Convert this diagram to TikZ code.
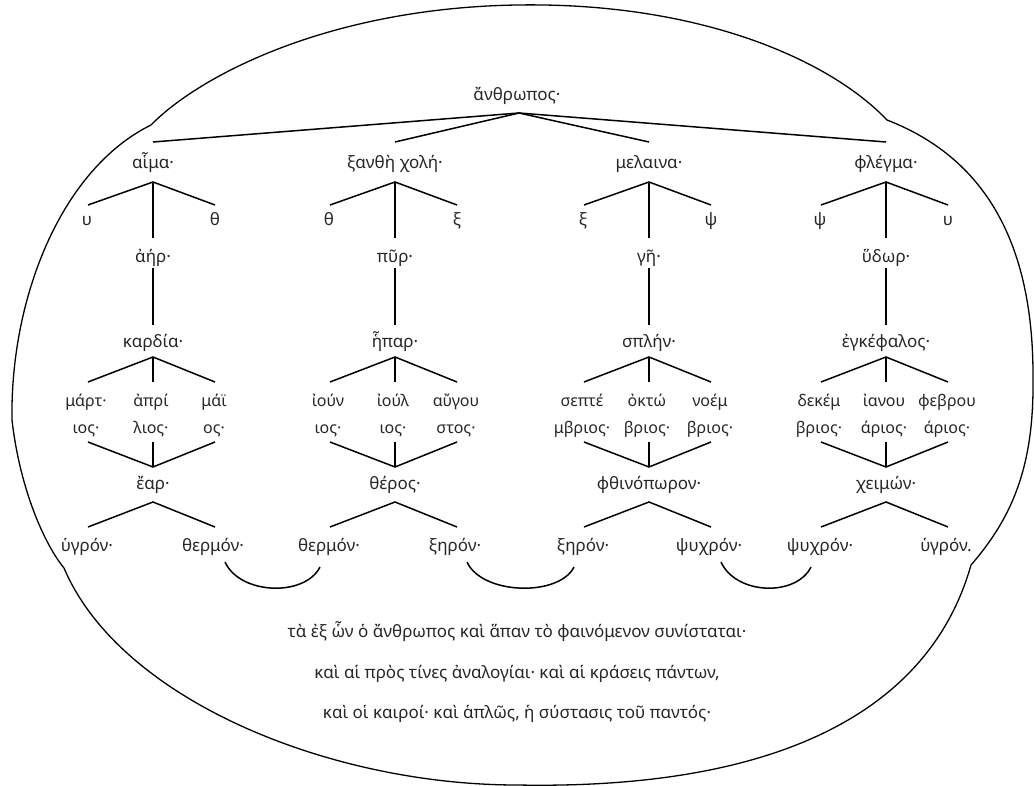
\documentclass[tikz,border=0pt]{standalone}
\usepackage{fontspec}
\setmainfont{Noto Sans}
\usetikzlibrary{calc}
\tikzset{
  lbl/.style={font=\fontsize{17}{20}\selectfont, inner sep=0pt, anchor=base, text=black!85},
  mon/.style={lbl, align=center, font=\fontsize{16}{27}\selectfont},
  body/.style={lbl, font=\fontsize{17}{20}\selectfont},
  link/.style={line width=1.5pt, line join=miter},
  rim/.style={line width=1.3pt},
}
\newcommand\humcol[2]{%
  \begin{scope}[xshift=#1pt]
    \coordinate (#2t) at (0,142);
    \node[lbl] (#2top) at (0,169) {\cTop};
    \coordinate (#2f1) at (0,182);
    \coordinate (#2f1l) at (-65,205);
    \coordinate (#2f1r) at (62,205);
    \coordinate (#2f1d) at (0,238);
    \node[lbl] (#2l) at (-66,226) {\cLeft};
    \node[lbl] (#2r) at (62,226) {\cRight};
    \node[lbl] (#2el) at (0,263) {\cElem};
    \coordinate (#2v1) at (0,268);
    \coordinate (#2v2) at (0,325);
    \node[lbl] (#2org) at (0,348) {\cOrgan};
    \coordinate (#2f2) at (0,357);
    \coordinate (#2f2l) at (-65,382);
    \coordinate (#2f2m) at (0,382);
    \coordinate (#2f2r) at (62,382);
    \node[mon] (#2ma) at (-67,433) {\cMa};
    \node[mon] (#2mb) at (-2,433) {\cMb};
    \node[mon] (#2mc) at (61,433) {\cMc};
    \coordinate (#2g1) at (-65,442);
    \coordinate (#2g2) at (0,442);
    \coordinate (#2g3) at (62,442);
    \coordinate (#2g) at (0,467);
    \node[lbl] (#2sea) at (0,489) {\cSeason};
    \coordinate (#2f3) at (0,502);
    \coordinate (#2f3l) at (-65,527);
    \coordinate (#2f3r) at (62,527);
    \node[lbl] (#2qa) at (-66,551) {\cQa};
    \node[lbl] (#2qb) at (60,551) {\cQb};
    \coordinate (#2arcL) at (-75,567);
    \coordinate (#2arcR) at (72,562);
    \draw[link] (#2f1l) -- (#2f1) -- (#2f1r);
    \draw[link] (#2f1) -- (#2f1d);
    \draw[link] (#2v1) -- (#2v2);
    \draw[link] (#2f2l) -- (#2f2) -- (#2f2r);
    \draw[link] (#2f2) -- (#2f2m);
    \draw[link] (#2g1) -- (#2g) -- (#2g3);
    \draw[link] (#2g2) -- (#2g);
    \draw[link] (#2f3l) -- (#2f3) -- (#2f3r);
  \end{scope}}
\begin{document}
\begin{tikzpicture}[x=1pt,y=-1pt]
\useasboundingbox (0,0) rectangle (1034,786);
% outer boundary
\draw[rim] (151,125) .. controls (200,75) and (330,8) .. (517,5)
  .. controls (700,2) and (830,60) .. (887,120)
  .. controls (990,160) and (1034,250) .. (1033,380)
  .. controls (1034,470) and (1010,520) .. (971,565)
  .. controls (930,710) and (780,790) .. (517,785)
  .. controls (330,785) and (120,700) .. (64,568)
  .. controls (45,545) and (20,490) .. (12,420)
  .. controls (10,300) and (60,170) .. (151,125) -- cycle;
% columns
\def\cTop{αἷμα·}\def\cLeft{υ}\def\cRight{θ}\def\cElem{ἀήρ·}\def\cOrgan{καρδία·}
\def\cMa{μάρτ·\\ιος·}\def\cMb{ἀπρί\\λιος·}\def\cMc{μάϊ\\ος·}
\def\cSeason{ἔαρ·}\def\cQa{ὑγρόν·}\def\cQb{θερμόν·}
\humcol{153}{a}
\def\cTop{ξανθὴ χολή·}\def\cLeft{θ}\def\cRight{ξ}\def\cElem{πῦρ·}\def\cOrgan{ἧπαρ·}
\def\cMa{ἰούν\\ιος·}\def\cMb{ἰούλ\\ιος·}\def\cMc{αὔγου\\στος·}
\def\cSeason{θέρος·}\def\cQa{θερμόν·}\def\cQb{ξηρόν·}
\humcol{395}{b}
\def\cTop{μελαινα·}\def\cLeft{ξ}\def\cRight{ψ}\def\cElem{γῆ·}\def\cOrgan{σπλήν·}
\def\cMa{σεπτέ\\μβριος·}\def\cMb{ὀκτώ\\βριος·}\def\cMc{νοέμ\\βριος·}
\def\cSeason{φθινόπωρον·}\def\cQa{ξηρόν·}\def\cQb{ψυχρόν·}
\humcol{649}{c}
\def\cTop{φλέγμα·}\def\cLeft{ψ}\def\cRight{υ}\def\cElem{ὕδωρ·}\def\cOrgan{ἐγκέφαλος·}
\def\cMa{δεκέμ\\βριος·}\def\cMb{ἰανου\\άριος·}\def\cMc{φεβρου\\άριος·}
\def\cSeason{χειμών·}\def\cQa{ψυχρόν·}\def\cQb{ὑγρόν.}
\humcol{886}{d}
% root
\node[lbl] (man) at (517,101) {ἄνθρωπος·};
\coordinate (mf) at (519,113);
\draw[link] (at) -- (mf) -- (dt);
\draw[link] (bt) -- (mf) -- (ct);
% arcs joining shared qualities
\draw[link] (aarcR) .. controls ($(aarcR)+(15,33)$) and ($(barcL)+(-15,30)$) .. (barcL);
\draw[link] (barcR) .. controls ($(barcR)+(15,33)$) and ($(carcL)+(-15,30)$) .. (carcL);
\draw[link] (carcR) .. controls ($(carcR)+(15,33)$) and ($(darcL)+(-15,30)$) .. (darcL);
% closing text
\node[body] (t1) at (517,637) {τὰ ἐξ ὧν ὁ ἄνθρωπος καὶ ἅπαν τὸ φαινόμενον συνίσταται·};
\node[body] (t2) at (517,678) {καὶ αἱ πρὸς τίνες ἀναλογίαι· καὶ αἱ κράσεις πάντων,};
\node[body] (t3) at (517,718) {καὶ οἱ καιροί· καὶ ἁπλῶς, ἡ σύστασις τοῦ παντός·};
\end{tikzpicture}
\end{document}
